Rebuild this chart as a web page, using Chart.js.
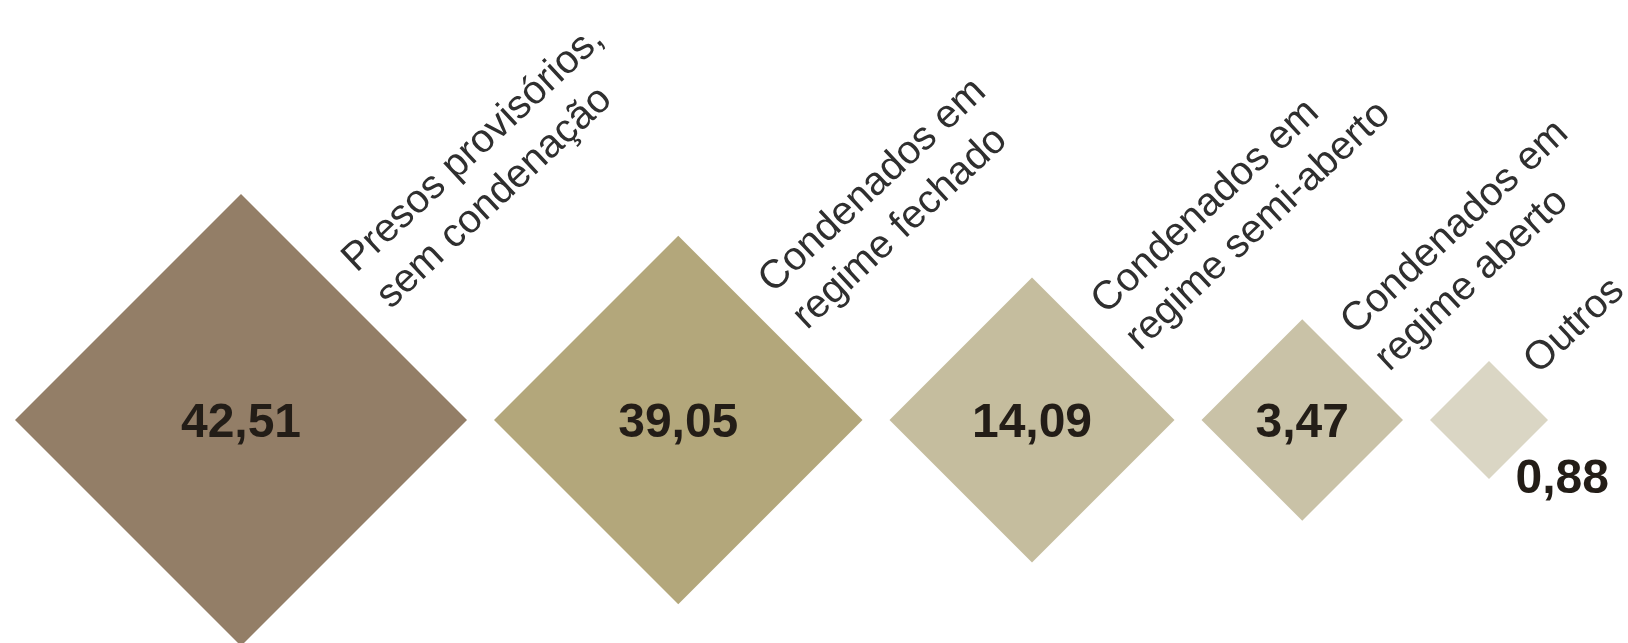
<!DOCTYPE html>
<html lang="pt">
<head>
<meta charset="utf-8">
<script src="https://cdn.jsdelivr.net/npm/chart.js@4.4.1/dist/chart.umd.min.js"></script>
<style>
  html, body { margin: 0; padding: 0; background: #ffffff; }
</style>
</head>
<body>
<canvas id="situacaoChart" width="1628" height="643"></canvas>
<script>
// Situação dos presos (%)
const categorias = [
    ["Presos provisórios,", "sem condenação"],
    ["Condenados em", "regime fechado"],
    ["Condenados em", "regime semi-aberto"],
    ["Condenados em", "regime aberto"],
    ["Outros"]
];
const percentuais = [42.51, 39.05, 14.09, 3.47, 0.88];
const cores = ["#937e67", "#b3a77b", "#c5bd9e", "#c9c2a7", "#dad6c4"];

// losangos com tamanho pela posição no ranking
const RAIO_MAX = 226;
const PASSO = 41.75;
const MARGEM = 15;
const ESPACO = 27;
const ANGULO = 43 * Math.PI / 180;

const ordenados = [...percentuais].sort((a, b) => b - a);
const raios = percentuais.map(v => RAIO_MAX - PASSO * ordenados.indexOf(v));

let acum = MARGEM;
const posX = raios.map(r => {
    const x = acum + r;
    acum += 2 * r + ESPACO;
    return x;
});

function formata(v) {
    return v.toFixed(2).replace(".", ",");
}

const rotulosPlugin = {
    id: "rotulos",
    afterDatasetsDraw(chart) {
        const ctx = chart.ctx;
        const meta = chart.getDatasetMeta(0);
        meta.data.forEach((pt, i) => {
            const r = pt.options.radius;
            const cx = pt.x;
            const cy = pt.y;

            // nome da categoria ao lado da aresta superior direita
            ctx.save();
            ctx.translate(cx + r / 2, cy - r / 2);
            ctx.rotate(-ANGULO);
            ctx.font = "40px 'Liberation Sans', Arial, sans-serif";
            ctx.fillStyle = "#2f2f2f";
            ctx.textAlign = "left";
            ctx.textBaseline = "alphabetic";
            const linhas = categorias[i];
            linhas.forEach((t, k) => {
                ctx.fillText(t, 25, 2 + (k - (linhas.length - 1) / 2) * 50);
            });
            ctx.restore();

            // valor
            ctx.save();
            ctx.font = "bold 48px 'Liberation Sans', Arial, sans-serif";
            ctx.fillStyle = "#231d17";
            ctx.textBaseline = "alphabetic";
            const txt = formata(percentuais[i]);
            const w = ctx.measureText(txt).width;
            if (w < r * 1.4) {
                ctx.textAlign = "center";
                ctx.fillText(txt, cx, cy + 17);
            } else {
                ctx.textAlign = "left";
                ctx.fillText(txt, cx + r * 0.45, cy + r * 0.95 + 17);
            }
            ctx.restore();
        });
    }
};

const ctx = document.getElementById("situacaoChart").getContext("2d");
new Chart(ctx, {
    type: "scatter",
    data: {
        labels: categorias.map(c => c.join(" ")),
        datasets: [{
            data: percentuais.map((v, i) => ({ x: posX[i], y: 0 })),
            pointStyle: "rectRot",
            pointRadius: raios,
            pointHoverRadius: raios,
            pointBackgroundColor: cores,
            pointBorderWidth: 0,
            pointBorderColor: "rgba(0,0,0,0)",
            clip: false
        }]
    },
    options: {
        responsive: false,
        animation: false,
        events: [],
        layout: { autoPadding: false, padding: { top: 197, left: 0, right: 0, bottom: 0 } },
        scales: {
            x: { type: "linear", min: 0, max: 1628, display: false },
            y: { type: "linear", min: -1, max: 1, display: false }
        },
        plugins: {
            legend: { display: false },
            tooltip: { enabled: false }
        }
    },
    plugins: [rotulosPlugin]
});
</script>
</body>
</html>
